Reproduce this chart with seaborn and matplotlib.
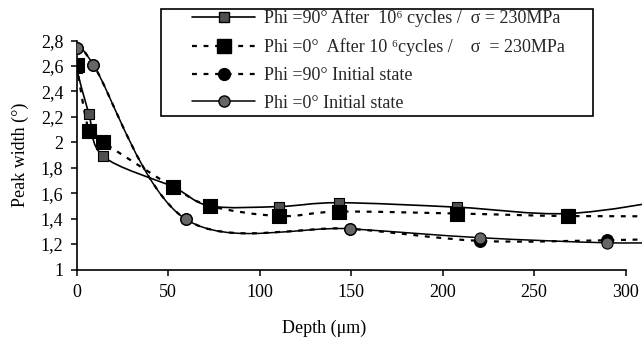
import numpy as np
import pandas as pd
import matplotlib
matplotlib.use("Agg")
import matplotlib.pyplot as plt
from matplotlib.path import Path
from matplotlib.patches import PathPatch, Rectangle
from matplotlib.lines import Line2D
import seaborn as sns

# ---- data ----
labels = [
    "Phi =90° After  10⁶ cycles /  σ = 230MPa",
    "Phi =0°  After 10 ⁶cycles /    σ  = 230MPa",
    "Phi =90° Initial state",
    "Phi =0° Initial state",
]
x_s1 = [0, 6.8, 14.6, 52.6, 73, 110.8, 143.4, 207.8, 268.4, 330]
y_s1 = [2.58, 2.22, 1.89, 1.65, 1.50, 1.495, 1.525, 1.49, 1.44, 1.56]
x_s2 = [0, 6.8, 14.6, 52.6, 73, 110.8, 143.4, 207.8, 268.4, 330]
y_s2 = [2.61, 2.09, 2.00, 1.65, 1.50, 1.42, 1.455, 1.44, 1.42, 1.42]
x_s3 = [0, 9.2, 59.7, 149.5, 220.5, 290, 330]
y_s3 = [2.74, 2.61, 1.395, 1.32, 1.225, 1.23, 1.245]
x_s4 = [0, 9.2, 59.7, 149.5, 220.5, 290, 330]
y_s4 = [2.74, 2.61, 1.395, 1.32, 1.25, 1.21, 1.215]
x_ticks = [0, 50, 100, 150, 200, 250, 300]
y_ticks = [1, 1.2, 1.4, 1.6, 1.8, 2, 2.2, 2.4, 2.6, 2.8]
y_ticklabels = ["1", "1,2", "1,4", "1,6", "1,8", "2", "2,2", "2,4", "2,6", "2,8"]

sns.set_theme(style="white")
plt.rcParams["font.family"] = ["Liberation Serif", "DejaVu Serif"]

FS = 13

fig = plt.figure(figsize=(6.42, 3.37), dpi=100)
ax = fig.add_axes([76.5 / 642, 1 - 269.5 / 337, 1 - 76.5 / 642, (269.5 - 40.5) / 337])


def smooth_path(xs, ys):
    pts = np.column_stack([xs, ys]).astype(float)
    n = len(pts)
    verts = [pts[0]]
    codes = [Path.MOVETO]
    for i in range(n - 1):
        p0 = pts[max(i - 1, 0)]
        p1 = pts[i]
        p2 = pts[i + 1]
        p3 = pts[min(i + 2, n - 1)]
        verts += [p1 + (p2 - p0) / 6, p2 - (p3 - p1) / 6, p2]
        codes += [Path.CURVE4] * 3
    return Path(verts, codes)


series = [
    dict(x=x_s1, y=y_s1, ls="-", lw=1.2, marker="s", ms=7.5, fc="#505050"),
    dict(x=x_s2, y=y_s2, ls=(0, (2.2, 3.0)), lw=1.6, marker="s", ms=9.5, fc="black"),
    dict(x=x_s3, y=y_s3, ls=(0, (2.2, 3.0)), lw=1.6, marker="o", ms=8.5, fc="black"),
    dict(x=x_s4, y=y_s4, ls="-", lw=1.1, marker="o", ms=8.0, fc="#666666"),
]

for s in series:
    patch = PathPatch(smooth_path(s["x"], s["y"]), facecolor="none", edgecolor="black",
                      lw=s["lw"], linestyle=s["ls"], zorder=2)
    ax.add_patch(patch)

for s in series:
    df = pd.DataFrame({"x": s["x"], "y": s["y"]})
    sns.scatterplot(data=df, x="x", y="y", ax=ax, marker=s["marker"], s=s["ms"] ** 2,
                    color=s["fc"], edgecolor="black", linewidth=0.8, zorder=3,
                    legend=False)

ax.set_xlim(0, 309)
ax.set_ylim(1, 2.8)
ax.set_xticks(x_ticks)
ax.set_yticks(y_ticks)
ax.set_yticklabels(y_ticklabels)
for sp in ["top", "right"]:
    ax.spines[sp].set_visible(False)
for sp in ["left", "bottom"]:
    ax.spines[sp].set_color("black")
    ax.spines[sp].set_linewidth(1.2)
ax.spines["bottom"].set_bounds(0, 300)
ax.tick_params(axis="both", direction="out", length=4, width=1.1, color="black",
               labelsize=FS, labelcolor="black")
ax.tick_params(axis="x", pad=6.5, bottom=True)
ax.tick_params(axis="y", pad=5.5, left=True)
ax.set_xlabel("Depth (μm)", fontsize=FS, color="black", va="baseline")
ax.set_ylabel("Peak width (°)", fontsize=FS, color="black")
ax.xaxis.set_label_coords((324.5 - 76.5) / (642 - 76.5), -(333 - 269.5) / 229)
ax.yaxis.set_label_coords(-(76.5 - 29) / 565.5, 0.5)
ax.grid(False)

# legend
handles = []
for s in series:
    handles.append(Line2D([], [], color="black", lw=s["lw"], linestyle=s["ls"],
                          marker=s["marker"], markersize=s["ms"],
                          markerfacecolor=s["fc"], markeredgecolor="black"))
leg = fig.legend(handles, labels, loc="upper left",
                 bbox_to_anchor=(192 / 642, 1 - 9.5 / 337), frameon=False,
                 fontsize=FS, handlelength=3.5, handletextpad=0.5,
                 labelspacing=0.6, borderpad=0, borderaxespad=0)
rect = Rectangle((161 / 642, 1 - 116 / 337), (593 - 161) / 642, (116 - 9) / 337,
                 transform=fig.transFigure, facecolor="white", edgecolor="black",
                 lw=1.2)
rect.set_zorder(4)
fig.add_artist(rect)
leg.set_zorder(5)

fig.savefig("out.png", dpi=100)
